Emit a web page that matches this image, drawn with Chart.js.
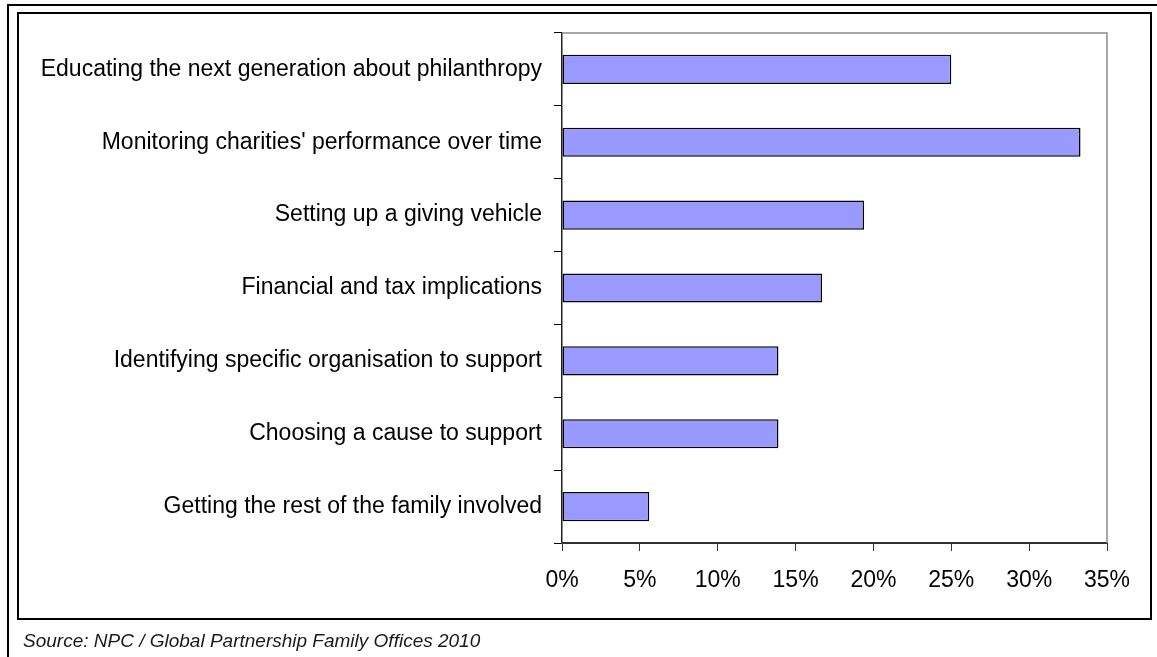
<!DOCTYPE html>
<html lang="en">
<head>
    <meta charset="UTF-8">
    <title>Family office philanthropy support</title>
    <script src="https://cdn.jsdelivr.net/npm/chart.js"></script>
    <style>
        html, body { margin: 0; padding: 0; background: #fff; }
        body { width: 1157px; height: 657px; position: relative; overflow: hidden; font-family: "Liberation Sans", Arial, sans-serif; }
        #title {
            position: absolute; left: 10px; top: -25px;
            font: italic bold 22px "Liberation Sans", Arial, sans-serif;
            color: #3f8cf2; white-space: nowrap;
        }
        #outerFrame {
            position: absolute; left: 7px; top: 4px; right: -10px; bottom: -10px;
            border-top: 2px solid #000; border-left: 2px solid #000;
        }
        #innerFrame {
            position: absolute; left: 17px; top: 12px; width: 1131px; height: 604px;
            border: 2px solid #000;
        }
        #source {
            position: absolute; left: 23px; top: 630px;
            font: italic 19px "Liberation Sans", Arial, sans-serif; color: #1a1a1a;
        }
        #chartBox { position: absolute; left: 0; top: 0; width: 1157px; height: 657px; }
    </style>
</head>
<body>
    <div id="title">Figure 9: Family offices' key areas of advice on philanthropy</div>
    <div id="outerFrame"></div>
    <div id="innerFrame"></div>
    <div id="chartBox"><canvas id="myChart" width="1157" height="657"></canvas></div>
    <div id="source">Source: NPC / Global Partnership Family Offices 2010</div>

    <script>
        // Areas where family offices help with philanthropy (share of respondents)
        const categories = [
            'Educating the next generation about philanthropy',
            "Monitoring charities' performance over time",
            'Setting up a giving vehicle',
            'Financial and tax implications',
            'Identifying specific organisation to support',
            'Choosing a cause to support',
            'Getting the rest of the family involved'
        ];
        const shares = [25, 33.3, 19.4, 16.7, 13.9, 13.9, 5.6];
        const xTicks = [0, 5, 10, 15, 20, 25, 30, 35];

        const labelFont = { family: '"Liberation Sans", Arial, sans-serif', size: 23 };

        // grey top and right edges of the plot area
        const plotFrame = {
            id: 'plotFrame',
            beforeDatasetsDraw(chart) {
                const { ctx, chartArea: a } = chart;
                ctx.save();
                ctx.strokeStyle = '#8c8c8c';
                ctx.lineWidth = 1.5;
                ctx.beginPath();
                ctx.moveTo(a.left, a.top);
                ctx.lineTo(a.right, a.top);
                ctx.lineTo(a.right, a.bottom);
                ctx.stroke();
                ctx.restore();
            }
        };

        const ctx = document.getElementById('myChart').getContext('2d');
        const myChart = new Chart(ctx, {
            type: 'bar',
            data: {
                labels: categories,
                datasets: [{
                    data: shares,
                    backgroundColor: '#9999ff',
                    borderColor: '#000',
                    borderWidth: 1.5,
                    borderSkipped: false,
                    categoryPercentage: 0.8,
                    barPercentage: 0.5
                }]
            },
            options: {
                indexAxis: 'y',
                responsive: false,
                animation: false,
                layout: { padding: { top: 33, right: 50, left: 0, bottom: 0 } },
                plugins: {
                    legend: { display: false },
                    tooltip: { enabled: false }
                },
                scales: {
                    y: {
                        type: 'category',
                        grid: { offset: true, drawOnChartArea: false, tickLength: 8, color: '#000' },
                        border: { color: '#222', width: 1.5 },
                        ticks: { color: '#000', font: labelFont, padding: 12 },
                        afterFit: s => { s.width = 562; }
                    },
                    x: {
                        min: 0,
                        max: 35,
                        afterBuildTicks: s => { s.ticks = xTicks.map(v => ({ value: v })); },
                        grid: { drawOnChartArea: false, tickLength: 8, color: '#333' },
                        border: { color: '#333', width: 2 },
                        ticks: { color: '#000', font: labelFont, padding: 16, callback: v => v + '%' },
                        afterFit: s => { s.height = 114; }
                    }
                }
            },
            plugins: [plotFrame]
        });
    </script>
</body>
</html>
